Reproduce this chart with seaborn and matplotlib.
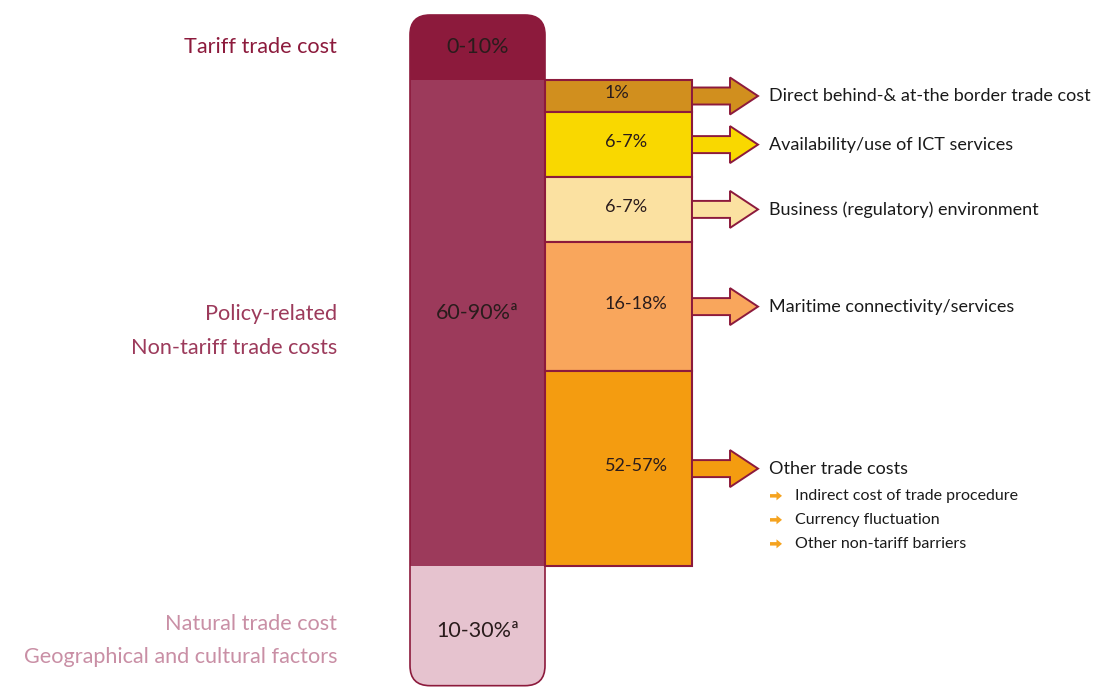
import numpy as np
import seaborn as sns
import matplotlib.pyplot as plt
from matplotlib.patches import FancyBboxPatch, FancyArrow

# 数据
left_values = ["0-10%", "60-90%ª", "10-30%ª"]
left_sizes = [2, 15, 3.7]
left_names = ["Tariff trade cost",
              "Policy-related\nNon-tariff trade costs",
              "Natural trade cost\nGeographical and cultural factors"]
right_values = ["1%", "6-7%", "6-7%", "16-18%", "52-57%"]
right_sizes = [1, 2, 2, 4, 6]
right_names = ["Direct behind-& at-the border trade cost",
               "Availability/use of ICT services",
               "Business (regulatory) environment",
               "Maritime connectivity/services",
               "Other trade costs"]
other_items = ["Indirect cost of trade procedure",
               "Currency fluctuation",
               "Other non-tariff barriers"]

# 颜色
left_colors = ["#8c1a3c", "#9c3a5b", "#e6c3cf"]
left_text_colors = ["#8c1a3c", "#9c3a5b", "#c98fa5"]
right_colors = ["#d18f1e", "#f9d800", "#fbe1a1", "#f9a65c", "#f49c10"]
edge = "#8c1a3c"

sns.set_theme(style="white")
plt.rcParams['font.family'] = ['Lato', 'DejaVu Sans']

ppu = 32.4      # 每单位像素
top_px = 15
fig = plt.figure(figsize=(10.96, 6.88), dpi=100)
ax = fig.add_axes([0, 0, 1, 1])
ax.set_xlim(0, 1096)
ax.set_ylim((688 - top_px) / ppu, -top_px / ppu)
ax.axis('off')

# 左边的柱子 (圆角)
lx, lw = 477.5, 135
left_bottoms = np.concatenate([[0], np.cumsum(left_sizes)[:-1]])
total = sum(left_sizes)
clip = FancyBboxPatch((lx - lw / 2, 0), lw, total,
                      boxstyle="round,pad=0,rounding_size=20",
                      mutation_aspect=1 / ppu, transform=ax.transData,
                      facecolor='none', edgecolor='none')
bars = ax.bar(lx, left_sizes, bottom=left_bottoms, width=lw,
              color=left_colors, linewidth=0)
for b in bars:
    b.set_clip_path(clip)
outline = FancyBboxPatch((lx - lw / 2, 0), lw, total,
                         boxstyle="round,pad=0,rounding_size=20",
                         mutation_aspect=1 / ppu, facecolor='none',
                         edgecolor=edge, linewidth=1.2, zorder=3)
ax.add_patch(outline)

nudge = [0, -0.3, 0.15]
name_nudge = [0, 0.25, 0.45]
for i, b in enumerate(left_bottoms):
    yc = b + left_sizes[i] / 2
    ax.text(lx, yc + nudge[i], left_values[i], ha='center', va='center',
            fontsize=15.5, color='#2a1c1c', zorder=4)
    ax.text(337, yc + name_nudge[i], left_names[i], ha='right', va='center',
            fontsize=15.6, color=left_text_colors[i], linespacing=1.85)

# 右边的柱子
rx, rw = 618.5, 147
right_bottoms = left_sizes[0] + np.concatenate([[0], np.cumsum(right_sizes)[:-1]])
ax.bar(rx, right_sizes, bottom=right_bottoms, width=rw, color=right_colors,
       edgecolor=edge, linewidth=1.5, zorder=2)

for i, b in enumerate(right_bottoms):
    yc = b + right_sizes[i] / 2
    ax.text(605, yc - 0.08, right_values[i], ha='left', va='center',
            fontsize=13, color='#2a1c1c', zorder=4)
    arr = FancyArrow(rx + rw / 2, yc, 66, 0, width=17 / ppu, head_width=37 / ppu,
                     head_length=28, length_includes_head=True,
                     facecolor=right_colors[i], edgecolor=edge, linewidth=1.4,
                     zorder=3)
    ax.add_patch(arr)
    ax.text(769, yc, right_names[i], ha='left', va='center', fontsize=13,
            color='#1a1a1a')

# Other trade costs 的子项
sub_y = right_bottoms[-1] + right_sizes[-1] / 2
for j, item in enumerate(other_items):
    yy = sub_y + (j + 1) * 24 / ppu + 0.1
    ax.add_patch(FancyArrow(770, yy, 12, 0, width=3.5 / ppu, head_width=9 / ppu,
                            head_length=5.5, length_includes_head=True,
                            color='#f5a31f', linewidth=0))
    ax.text(795, yy, item, ha='left', va='center', fontsize=11.5,
            color='#1a1a1a')

fig.savefig('out.png', dpi=100)
